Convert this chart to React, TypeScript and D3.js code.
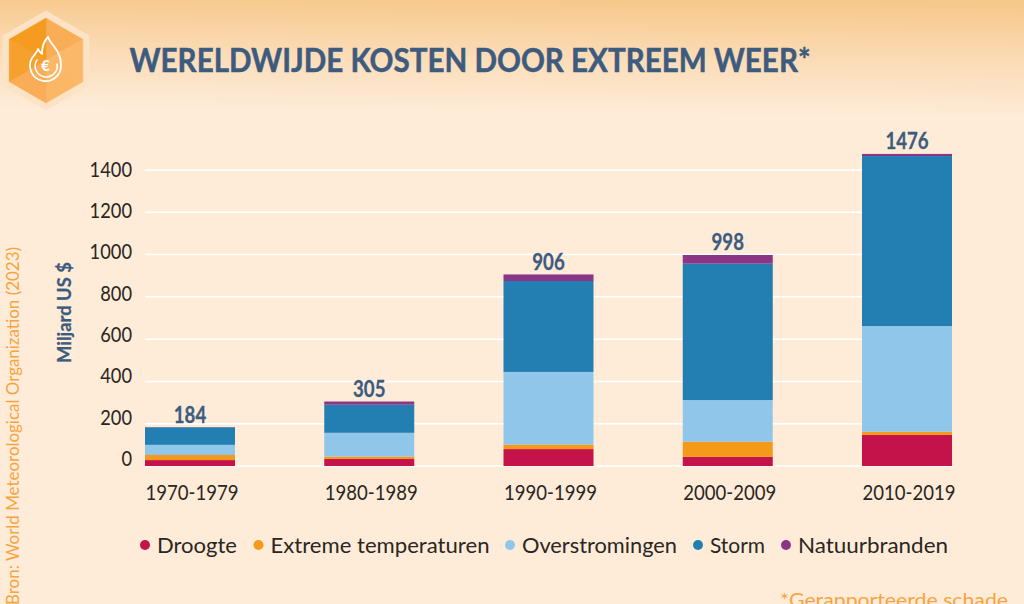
import React from "react";
import * as d3 from "d3";

const categories = ["1970-1979", "1980-1989", "1990-1999", "2000-2009", "2010-2019"];
const seriesNames = ["Droogte", "Extreme temperaturen", "Overstromingen", "Storm", "Natuurbranden"];
const droogte = [28, 33, 80, 43, 147];
const extreem = [24, 11, 21, 72, 15];
const overstromingen = [48, 113, 344, 197, 500];
const storm = [83, 133, 430, 645, 804];
const natuurbranden = [1, 15, 31, 41, 10];
const totals = [184, 305, 906, 998, 1476];
const yTicks = [0, 200, 400, 600, 800, 1000, 1200, 1400];
const colors = ["#c4134a", "#f4991a", "#8fc6ea", "#237eb2", "#8b3587"];

const FONT = "Lato, 'Open Sans', sans-serif";
const NAVY = "#3d5b7e";
const INK = "#2a2622";
const ORANGE = "#f7a440";

const columns = [droogte, extreem, overstromingen, storm, natuurbranden];
const rows = categories.map((c, i) => {
  const r: Record<string, number | string> = { category: c };
  seriesNames.forEach((s, j) => (r[s] = columns[j][i]));
  return r;
});
const stacked = d3.stack<any>().keys(seriesNames)(rows);

const y = d3.scaleLinear().domain([0, 1400]).range([466, 170]);
const yLabel = d3.scaleLinear().domain([0, 1400]).range([466, 176.7]);
const x = d3.scalePoint<string>().domain(categories).range([190, 907]);
const BAR = 90;

const legendDots = [145, 258.5, 510, 698, 786];
const legendWidths = [80, 219, 155, 55, 150];

function hexPoint(cx: number, cy: number, r: number, k: number): [number, number] {
  const a = -Math.PI / 2 + (k * Math.PI) / 3;
  return [cx + r * Math.cos(a), cy + r * Math.sin(a)];
}

function Badge() {
  const cx = 46, cy = 60.5, r = 42.5;
  const shades = ["#f9ad56", "#fbb868", "#fbb766", "#f9ad56", "#f6a02d", "#f59b1f"];
  const outer = d3.range(6).map((k) => hexPoint(cx, cy, 50, k).join(",")).join(" ");
  return (
    <g>
      <polygon points={outer} fill="#fde3c6" />
      {shades.map((s, k) => {
        const a = hexPoint(cx, cy, r, k);
        const b = hexPoint(cx, cy, r, k + 1);
        return <polygon key={k} points={`${cx},${cy} ${a.join(",")} ${b.join(",")}`} fill={s} stroke={s} strokeWidth={0.4} />;
      })}
      <path
        d="M48 37 C50 44 61 50 61 65 A15.5 15.5 0 1 1 32 58 C34 55 37 53 38 49 C40 53 41 53 42 54 C42 47 44 41 48 37 Z"
        fill="none" stroke="#fff" strokeWidth={1.8} strokeLinejoin="round"
      />
      <path d="M37 60 A11 11 0 1 0 57 64" fill="none" stroke="#fff" strokeWidth={1.5} strokeLinecap="round" />
      <text x={45.5} y={71} textAnchor="middle" fontFamily={FONT} fontWeight={900} fontSize={15} fill="#fff">€</text>
    </g>
  );
}

export default function App() {
  return (
    <svg width={1024} height={604} viewBox="0 0 1024 604" style={{ position: "absolute", left: 0, top: 0, display: "block" }}>
      <defs>
        <linearGradient id="sky" x1="0.56" y1="0" x2="0.46" y2="1">
          <stop offset="0" stopColor="#f7c88b" />
          <stop offset="0.5" stopColor="#fbdcb7" />
          <stop offset="1" stopColor="#feecd9" />
        </linearGradient>
      </defs>
      <rect x={0} y={0} width={1024} height={604} fill="#feecd9" />
      <rect x={0} y={0} width={1024} height={114} fill="url(#sky)" />
      <Badge />
      <text x={129.5} y={71.5} fontFamily={FONT} fontWeight={700} fontSize={32.5} fill={NAVY} stroke={NAVY} strokeWidth={0.5} textLength={681} lengthAdjust="spacingAndGlyphs">
        WERELDWIJDE KOSTEN DOOR EXTREEM WEER*
      </text>

      {yTicks.map((t) => (
        <line key={t} x1={145} x2={952} y1={y(t)} y2={y(t)} stroke="#ffffff" strokeWidth={1.5} />
      ))}
      {yTicks.map((t) => (
        <text key={t} x={132} y={yLabel(t)} textAnchor="end" fontFamily={FONT} fontSize={21} fill={INK} textLength={String(t).length * 10.6} lengthAdjust="spacingAndGlyphs">{t}</text>
      ))}

      {stacked.map((layer, j) => (
        <g key={layer.key} fill={colors[j]}>
          {layer.map((d, i) => (
            <rect key={i} x={x(categories[i])! - BAR / 2} width={BAR} y={y(d[1])} height={y(d[0]) - y(d[1])} />
          ))}
        </g>
      ))}

      {categories.map((c, i) => (
        <text key={c} x={x(c)! + 2} y={500} textAnchor="middle" fontFamily={FONT} fontSize={21} fill={INK} textLength={93} lengthAdjust="spacingAndGlyphs">{c}</text>
      ))}
      {totals.map((t, i) => (
        <text key={t} x={x(categories[i])!} y={y(t) - 4.5} textAnchor="middle" fontFamily={FONT} fontWeight={700} fontSize={23} fill={NAVY} stroke={NAVY} strokeWidth={0.3} textLength={String(t).length * 10.8} lengthAdjust="spacingAndGlyphs">{t}</text>
      ))}

      <text transform="translate(71,363) rotate(-90)" fontFamily={FONT} fontWeight={700} fontSize={18} fill={NAVY} stroke={NAVY} strokeWidth={0.25} textLength={101} lengthAdjust="spacingAndGlyphs">Miljard US $</text>
      <text transform="translate(19,605) rotate(-90)" fontFamily={FONT} fontSize={18} fill={ORANGE} textLength={358} lengthAdjust="spacingAndGlyphs">Bron: World Meteorological Organization (2023)</text>

      {seriesNames.map((s, j) => (
        <g key={s}>
          <circle cx={legendDots[j]} cy={545} r={5} fill={colors[j]} />
          <text x={legendDots[j] + 12} y={552.5} fontFamily={FONT} fontSize={21} fill={INK} textLength={legendWidths[j]} lengthAdjust="spacingAndGlyphs">{s}</text>
        </g>
      ))}

      <text x={780} y={607} fontFamily={FONT} fontSize={19.5} fill={ORANGE} textLength={228} lengthAdjust="spacingAndGlyphs">*Gerapporteerde schade</text>
    </svg>
  );
}
